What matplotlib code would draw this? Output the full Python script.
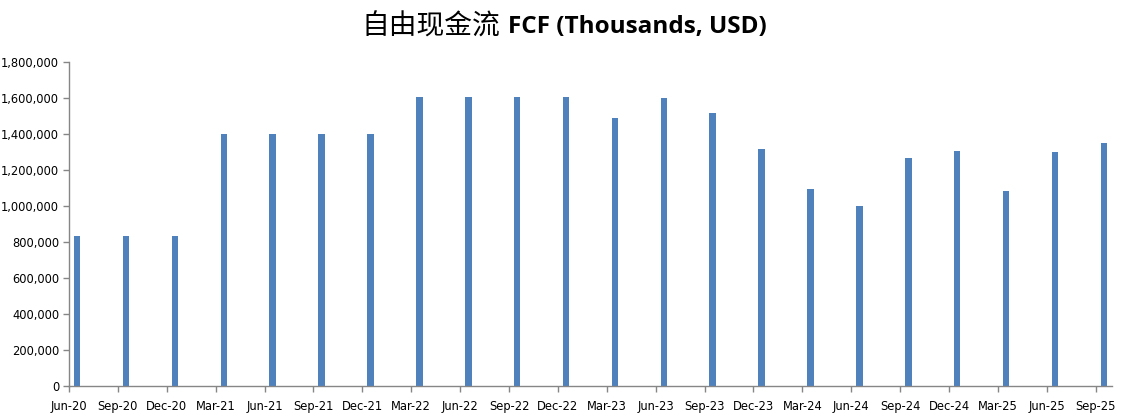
import matplotlib
matplotlib.use("Agg")
import matplotlib.pyplot as plt
from matplotlib.ticker import FuncFormatter

quarters = ["Jun-20", "Sep-20", "Dec-20", "Mar-21", "Jun-21", "Sep-21", "Dec-21",
            "Mar-22", "Jun-22", "Sep-22", "Dec-22", "Mar-23", "Jun-23", "Sep-23",
            "Dec-23", "Mar-24", "Jun-24", "Sep-24", "Dec-24", "Mar-25", "Jun-25",
            "Sep-25"]
fcf = [835000, 835000, 835000, 1400000, 1400000, 1400000, 1400000,
       1605000, 1605000, 1605000, 1605000, 1489000, 1600000, 1517000,
       1317000, 1095000, 1000000, 1267000, 1306000, 1083000, 1300000,
       1350000]

bar_color = "#4F81BD"
axis_color = "#868686"

fig = plt.figure(figsize=(11.35, 4.17), dpi=100)
ax = fig.add_axes([69 / 1135, 31 / 417, (1112 - 69) / 1135, (386 - 62) / 417])

# date axis in months: each quarter label sits at the start of its month,
# the bar is centred in that month
months = [i * 3 for i in range(len(quarters))]
ax.bar([m + 0.5 for m in months], fcf, width=0.4, color=bar_color)

ax.set_xlim(0, months[-1] + 1)
ax.set_ylim(0, 1800000)
ax.set_xticks(months)
ax.set_xticklabels(quarters)
ax.set_yticks(range(0, 1800001, 200000))
ax.yaxis.set_major_formatter(FuncFormatter(lambda v, p: f"{int(v):,}"))

for s in ["top", "right"]:
    ax.spines[s].set_visible(False)
for s in ["left", "bottom"]:
    ax.spines[s].set_color(axis_color)
    ax.spines[s].set_linewidth(1)
ax.tick_params(axis="both", colors=axis_color, labelcolor="black", labelsize=8.3,
               length=4, width=1, direction="out")
ax.tick_params(axis="x", pad=6)
ax.tick_params(axis="y", pad=3)

fig.text(500 / 1135, 0.935, "自由现金流", family=["Noto Sans CJK SC", "DejaVu Sans"],
         fontsize=20, ha="right", va="center")
fig.text(508 / 1135, 0.935, "FCF (Thousands, USD)", family=["Open Sans", "DejaVu Sans"],
         fontsize=17.5, fontweight="bold", ha="left", va="center")

plt.savefig("out.png", dpi=100, facecolor="white")
